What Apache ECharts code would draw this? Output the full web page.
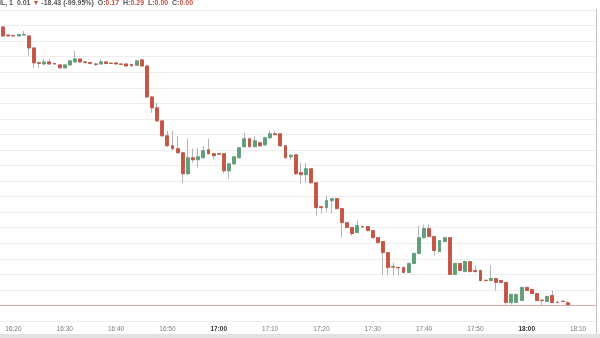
<!DOCTYPE html>
<html>
<head>
<meta charset="utf-8">
<script src="https://cdn.jsdelivr.net/npm/echarts@6/dist/echarts.min.js"></script>
<style>html,body{margin:0;padding:0;background:#fff;}#c{width:600px;height:338px;}</style>
</head>
<body>
<div id="c"></div>
<script>
// one-minute bars, 16:18 .. 18:08
var startTime = "16:18";
var barCount = 116; // slots on the time axis
var opens  = [17.91,17.39,17.36,17.33,17.39,17.33,16.56,15.60,15.53,15.66,15.56,15.47,15.28,15.47,15.66,15.85,15.66,15.62,15.53,15.53,15.66,15.58,15.60,15.53,15.53,15.50,15.44,15.79,15.40,13.41,12.71,11.87,10.91,10.27,10.08,9.82,8.47,9.50,9.37,9.50,10.01,9.76,9.76,9.76,8.66,9.11,9.50,10.21,10.72,10.21,10.46,10.33,10.78,11.04,11.04,10.27,9.56,9.69,8.54,8.41,8.79,7.89,6.35,6.29,6.74,6.87,6.23,5.33,5.01,4.69,5.07,5.07,4.81,4.36,4.11,3.40,2.50,2.44,2.44,2.12,2.70,3.34,4.36,4.94,4.43,3.47,4.11,4.36,1.99,2.70,2.18,2.82,2.25,2.25,1.62,1.60,1.73,1.60,1.48,0.19,0.19,0.32,1.16,1.03,0.77,0.34,0.26,0.64,0.20,0.27,0.17];
var closes = [17.33,17.33,17.33,17.42,17.42,16.56,15.60,15.56,15.66,15.53,15.53,15.28,15.47,15.73,15.85,15.66,15.62,15.56,15.50,15.66,15.56,15.56,15.53,15.50,15.40,15.42,15.73,15.40,13.41,12.71,11.87,10.91,10.27,10.08,9.82,8.47,9.50,9.37,9.56,9.95,9.76,9.63,9.72,8.66,9.11,9.56,10.14,10.72,10.21,10.59,10.27,10.78,11.04,10.98,10.27,9.50,9.66,8.47,8.41,8.79,7.89,6.29,6.29,6.74,6.87,6.23,5.33,5.01,4.62,5.13,5.05,4.81,4.36,4.04,3.40,2.44,2.47,2.42,2.12,2.70,3.34,4.36,4.94,4.43,3.53,4.17,4.36,1.99,2.70,2.25,2.82,2.18,2.18,1.60,1.60,1.73,1.48,1.48,0.19,0.71,0.71,1.16,0.96,0.77,0.32,0.32,0.58,0.19,0.19,0.26,0.00];
var lows   = [17.27,17.30,17.30,17.30,17.36,16.05,15.28,15.28,15.47,15.47,15.47,15.24,15.24,15.40,15.62,15.60,15.56,15.50,15.40,15.50,15.50,15.53,15.50,15.47,15.37,15.37,15.40,15.37,13.35,12.39,11.80,10.85,10.20,10.00,9.75,7.89,8.40,9.18,8.86,9.44,9.70,9.40,9.69,8.50,8.15,9.05,9.45,10.15,10.15,10.15,10.20,10.25,10.72,10.95,10.20,9.45,9.37,8.40,7.83,7.89,7.83,5.78,5.91,6.03,5.91,6.18,4.36,4.97,4.49,4.65,5.00,4.78,4.33,4.00,1.93,1.93,1.93,1.93,2.05,2.08,2.65,3.30,4.30,4.40,3.21,3.43,4.05,1.95,1.95,2.20,2.15,2.12,2.10,1.55,1.55,1.55,0.96,1.45,0.05,0.05,0.15,0.28,0.92,0.73,0.28,0.00,0.22,0.15,0.15,0.22,0.00];
var highs  = [17.91,17.46,17.39,17.46,17.65,17.39,16.60,15.73,15.85,15.85,15.60,15.50,15.50,15.79,16.37,15.90,15.70,15.66,15.60,15.85,15.70,15.62,15.62,15.56,15.56,15.53,15.79,15.82,15.42,13.45,13.03,11.90,11.23,11.23,10.91,9.85,10.72,10.08,10.14,10.27,10.72,9.80,9.80,9.80,9.15,9.60,10.20,11.10,10.80,10.91,10.55,10.85,11.23,11.23,11.10,10.30,9.70,9.72,9.18,9.18,8.85,7.92,6.40,7.06,6.90,6.90,6.26,5.36,5.05,5.46,5.13,5.10,4.85,4.40,4.15,3.45,2.76,2.50,2.50,2.75,3.40,5.13,5.20,5.20,4.47,4.20,4.40,4.40,2.75,2.75,2.88,2.88,2.57,2.30,1.65,2.57,1.78,1.62,1.52,0.75,0.75,1.20,1.20,1.07,0.80,0.36,0.62,0.96,0.32,0.30,0.29];
var headerChange = "0.01";
var headerDiff = "-18.43 (-99.95%)";
var symbolLabel = "IL, 1";

var UP = "#5f9f78", DOWN = "#c95242", WICK = "#b4b4b4";

function pad(n){return (n<10?"0":"")+n;}
var times = [];
var sp = startTime.split(":"), t0 = (+sp[0])*60 + (+sp[1]);
for (var k = 0; k < barCount; k++) { var t = t0 + k; times.push(pad(Math.floor(t/60)) + ":" + pad(t%60)); }

var wickData = [], bodyData = [];
for (var i = 0; i < opens.length; i++) {
  wickData.push([opens[i], closes[i], lows[i], highs[i]]);
  bodyData.push([opens[i], closes[i], Math.min(opens[i], closes[i]), Math.max(opens[i], closes[i])]);
}
var last = opens.length - 1;
function f2(v){return v.toFixed(2);}
var header = "{d|" + symbolLabel + "  " + headerChange + " }{r|▼}{d| " + headerDiff + "  O:}{r|" + f2(opens[last]) +
  "}{d|  H:}{r|" + f2(highs[last]) + "}{d|  L:}{r|" + f2(lows[last]) + "}{d|  C:}{r|" + f2(closes[last]) + "}";

function isTen(idx, val){ return val.slice(-1) === "0"; }

var chart = echarts.init(document.getElementById("c"), null, {renderer: "canvas"});
chart.setOption({
  animation: false,
  backgroundColor: "#ffffff",
  title: {
    text: header, left: -1, top: -1, padding: 0,
    textStyle: { fontFamily: "Liberation Sans", lineHeight: 8, rich: {
      d: {fontSize: 7, lineHeight: 8, color: "#555555", fontFamily: "Liberation Sans"},
      r: {fontSize: 7, lineHeight: 8, color: DOWN, fontFamily: "Liberation Sans"}
    }}
  },
  grid: { left: 0.6, right: 4, top: 10, bottom: 17 },
  xAxis: {
    type: "category", data: times, boundaryGap: true,
    axisLine: { lineStyle: { color: "#a8a8a8", width: 1 } },
    axisTick: { interval: isTen, alignWithLabel: true, length: 3, lineStyle: { color: "#a8a8a8" } },
    axisLabel: {
      interval: isTen, fontSize: 6.5, color: "#7a7a7a", margin: 5, fontFamily: "Liberation Sans",
      formatter: function(v){ return v.slice(-2) === "00" ? "{b|" + v + "}" : v; },
      rich: { b: { fontSize: 6.5, color: "#333333", fontWeight: "bold", fontFamily: "Liberation Sans" } }
    },
    splitLine: { show: false }
  },
  yAxis: {
    type: "value", min: -1, max: 19, interval: 1, position: "right",
    axisLine: { show: false }, axisTick: { show: false }, axisLabel: { show: false },
    splitLine: { show: true, lineStyle: { color: "#ededed", width: 1 } }
  },
  series: [
    {
      type: "candlestick", data: wickData, barWidth: 3.4,
      itemStyle: { color: "rgba(0,0,0,0)", color0: "rgba(0,0,0,0)", borderColor: WICK, borderColor0: WICK, borderWidth: 1 }
    },
    {
      type: "candlestick", data: bodyData, barWidth: 3.4,
      itemStyle: { color: UP, color0: DOWN, borderColor: UP, borderColor0: DOWN, borderWidth: 0.8 },
      markLine: {
        silent: true, symbol: ["none", "none"], label: { show: false },
        lineStyle: { color: "#dcaaa3", type: "solid", width: 1 },
        data: [{ yAxis: closes[last] }]
      }
    }
  ],
  graphic: [
    { type: "line", shape: { x1: 596.5, y1: 9, x2: 596.5, y2: 334 }, style: { stroke: "#c4c4c4", lineWidth: 1 }, silent: true },
    { type: "rect", shape: { x: 0, y: 334, width: 600, height: 4 }, style: { fill: "#e2e2e2" }, silent: true }
  ]
});
</script>
</body>
</html>
